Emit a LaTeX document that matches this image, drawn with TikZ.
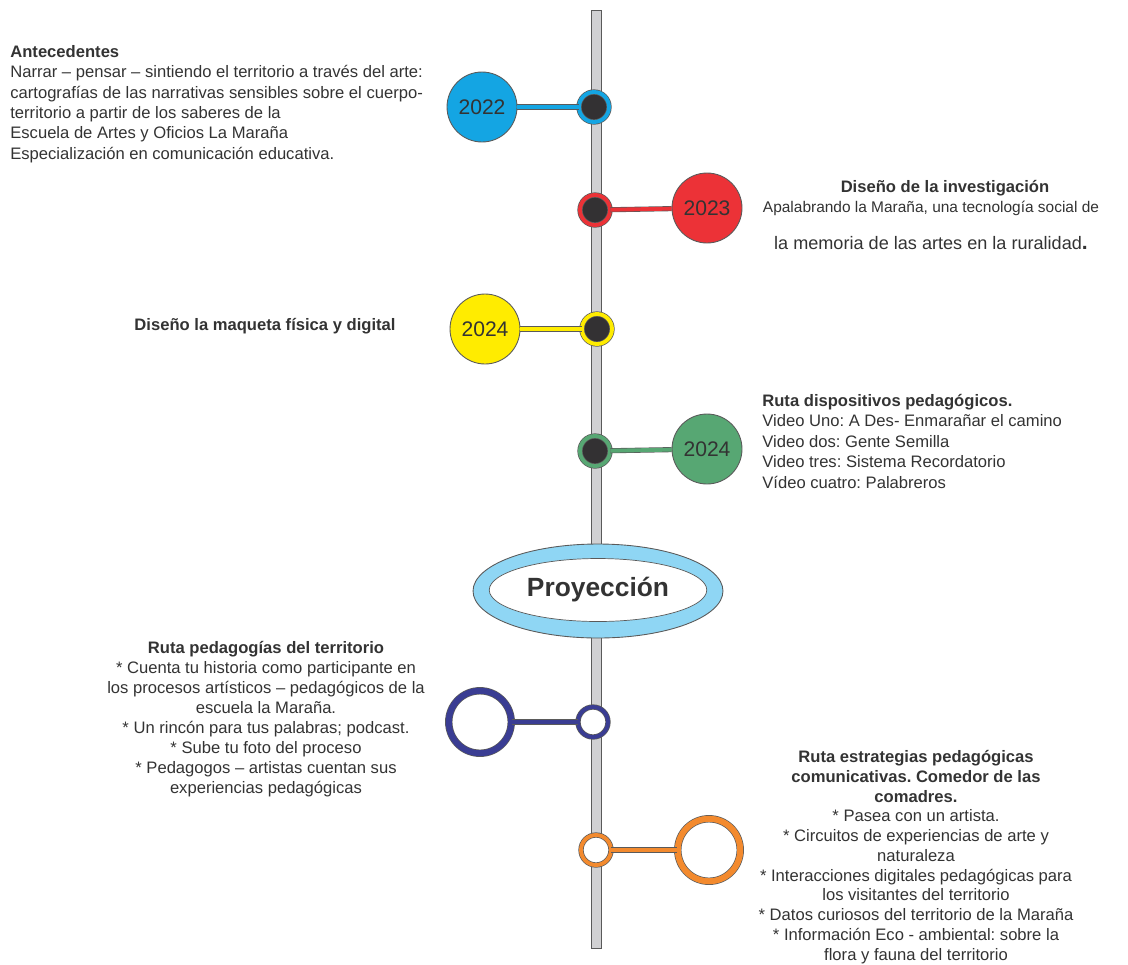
\documentclass[tikz,border=0pt]{standalone}
\usepackage{fontspec}
\setmainfont{Liberation Sans}
\usetikzlibrary{shapes.geometric}
\frenchspacing
\definecolor{ink}{HTML}{333333}
\definecolor{edgegray}{HTML}{5A5A5A}
\definecolor{barfill}{HTML}{D1D1D3}
\definecolor{dotfill}{HTML}{333133}
\definecolor{yblue}{HTML}{14A5E3}
\definecolor{yred}{HTML}{EC3237}
\definecolor{yyellow}{HTML}{FFEC00}
\definecolor{ygreen}{HTML}{57A773}
\definecolor{rnavy}{HTML}{3A3D93}
\definecolor{rorange}{HTML}{F38A2E}
\definecolor{skyblue}{HTML}{8FD6F4}
\begin{document}
\begin{tikzpicture}[x=0.02cm,y=-0.02cm,
  every node/.style={text=ink},
  year/.style={circle,draw=edgegray,line width=0.5pt,fill=#1,minimum size=1.4cm,inner sep=0pt,font=\fontsize{12}{14}\selectfont},
  dot/.style={circle,draw=edgegray,line width=0.4pt,double=#1,double distance=2.2pt,fill=dotfill,minimum size=0.6cm,inner sep=0pt},
  ring/.style={circle,draw=edgegray,line width=0.4pt,double=#1,double distance=3.4pt,fill=white,minimum size=1.25cm,inner sep=0pt},
  smallring/.style={circle,draw=edgegray,line width=0.4pt,double=#1,double distance=2.2pt,fill=white,minimum size=0.6cm,inner sep=0pt},
  link/.style={draw=edgegray,line width=0.35pt,double=#1,double distance=2.2pt},
  txt/.style={inner sep=0pt,font=\fontsize{9.45}{11.6}\selectfont}]
\useasboundingbox (0,0) rectangle (1128,964);
\draw[edgegray,fill=barfill,line width=0.5pt] (591,10) rectangle (601,948);
\node[year=yblue] (c1) at (482,107) {2022};
\node[dot=yblue] (d1) at (594,107) {};
\draw[link=yblue] (c1) -- (d1);
\node[year=yred] (c2) at (707,208) {2023};
\node[dot=yred] (d2) at (595,210) {};
\draw[link=yred] (d2) -- (c2);
\node[year=yyellow] (c3) at (485,329) {2024};
\node[dot=yyellow] (d3) at (597,329) {};
\draw[link=yyellow] (c3) -- (d3);
\node[year=ygreen] (c4) at (707,449) {2024};
\node[dot=ygreen] (d4) at (595,451) {};
\draw[link=ygreen] (d4) -- (c4);
\node[ellipse,draw=edgegray,line width=0.5pt,fill=skyblue,minimum width=5cm,minimum height=1.88cm] (p1) at (598,591) {};
\node[ellipse,draw=edgegray,line width=0.4pt,fill=white,minimum width=4.2cm,minimum height=1.26cm,font=\fontsize{15}{18}\selectfont\bfseries] (p2) at (598,590) {Proyección};
\node[ring=rnavy] (c5) at (480,722) {};
\node[smallring=rnavy] (d5) at (593,722) {};
\draw[link=rnavy] (c5) -- (d5);
\node[ring=rorange] (c6) at (709,850) {};
\node[smallring=rorange] (d6) at (596,850) {};
\draw[link=rorange] (d6) -- (c6);
\node[txt,anchor=north west,align=left] (t1) at (10,45) {\textbf{Antecedentes}\\Narrar – pensar – sintiendo el territorio a través del arte:\\cartografías de las narrativas sensibles sobre el cuerpo-\\territorio a partir de los saberes de la\\Escuela de Artes y Oficios La Maraña\\Especialización en comunicación educativa.};
\node[txt,anchor=north,align=center] (t2) at (931,180) {\hspace*{0.56cm}\textbf{Diseño de la investigación}\\{\fontsize{8.8}{11.6}\selectfont Apalabrando la Maraña, una tecnología social de}\\[9pt]{\fontsize{10.3}{12}\selectfont la memoria de las artes en la ruralidad{\bfseries\large .}}};
\node[txt,font=\fontsize{9.45}{11.6}\selectfont\bfseries] (t3) at (265,326) {Diseño la maqueta física y digital};
\node[txt,anchor=north west,align=left] (t4) at (762,394) {\textbf{Ruta dispositivos pedagógicos.}\\Video Uno: A Des- Enmarañar el camino\\Video dos: Gente Semilla\\Video tres: Sistema Recordatorio\\Vídeo cuatro: Palabreros};
\node[txt,anchor=north,align=center,font=\fontsize{9.45}{11.35}\selectfont] (t5) at (266,641) {\textbf{Ruta pedagogías del territorio}\\* Cuenta tu historia como participante en\\los procesos artísticos – pedagógicos de la\\escuela la Maraña.\\* Un rincón para tus palabras; podcast.\\* Sube tu foto del proceso\\* Pedagogos – artistas cuentan sus\\experiencias pedagógicas};
\node[txt,anchor=north,align=center,font=\fontsize{9.45}{11.25}\selectfont] (t6) at (916,750) {\textbf{Ruta estrategias pedagógicas}\\\textbf{comunicativas. Comedor de las}\\\textbf{comadres.}\\* Pasea con un artista.\\* Circuitos de experiencias de arte y\\naturaleza\\* Interacciones digitales pedagógicas para\\los visitantes del territorio\\* Datos curiosos del territorio de la Maraña\\* Información Eco - ambiental: sobre la\\flora y fauna del territorio};
\end{tikzpicture}
\end{document}
